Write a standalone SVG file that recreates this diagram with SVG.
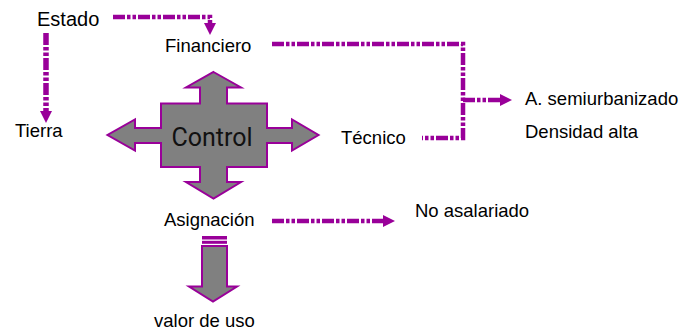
<svg xmlns="http://www.w3.org/2000/svg" width="681" height="331" viewBox="0 0 681 331">
  <style>
    .lbl { font-family: "Liberation Sans", Arial, sans-serif; font-size: 18.5px; fill: #000; }
    .big { font-size: 20px; }
    .ctl { font-family: Roboto, "Liberation Sans", Arial, sans-serif; font-size: 25px; fill: #111; text-anchor: middle; }
    .link { fill: none; stroke: #990099; stroke-width: 4.5; stroke-dasharray: 12 2 3.5 2 3.5 2; }
    .thick { stroke-width: 5.5; }
    .block { fill: #808080; stroke: #990099; stroke-width: 2; stroke-linejoin: miter; }
  </style>
  <defs>
    <marker id="head" markerUnits="userSpaceOnUse" markerWidth="12" markerHeight="12" refX="0" refY="5.5" orient="auto" viewBox="0 0 11 11">
      <path d="M0,0 L11,5.5 L0,11 z" fill="#990099"/>
    </marker>
  </defs>

  <rect width="681" height="331" fill="#fff"/>

  <!-- connectors -->
  <g id="connectors">
    <path class="link" d="M113,17 H210 V23" marker-end="url(#head)"/>
    <path class="link thick" d="M46,33 V111" marker-end="url(#head)"/>
    <path class="link" d="M272,44 H463 V138 H422"/>
    <path class="link" d="M463,100 H500" marker-end="url(#head)"/>
    <path class="link" d="M272,221 H383" marker-end="url(#head)"/>
  </g>

  <!-- central four-way block arrow -->
  <g id="control">
    <polygon class="block" points="213.5,72 241,87.5 227,87.5 227,103.5 267,103.5 267,128 292,128 292,119.5 318.5,135 292,150.5 292,143 267,143 267,167 227,167 227,182 241,182 213.5,198.5 186,182 200,182 200,167 161,167 161,143 135,143 135,150.5 107.5,135 135,119.5 135,128 161,128 161,103.5 200,103.5 200,87.5 186,87.5"/>
    <text class="ctl" x="212" y="146">Control</text>
  </g>

  <g id="estado"><text class="lbl big" x="37" y="26">Estado</text></g>
  <g id="financiero"><text class="lbl" x="165" y="52">Financiero</text></g>
  <g id="tierra"><text class="lbl" x="15" y="137">Tierra</text></g>
  <g id="tecnico"><text class="lbl" x="341" y="144">Técnico</text></g>
  <g id="asignacion"><text class="lbl" x="164" y="226">Asignación</text></g>
  <g id="no-asalariado"><text class="lbl" x="415" y="217">No asalariado</text></g>
  <g id="semiurbanizado"><text class="lbl" x="525" y="105">A. semiurbanizado</text></g>
  <g id="densidad"><text class="lbl" x="525" y="138">Densidad alta</text></g>

  <!-- striped down arrow -->
  <g id="valor-arrow">
    <rect x="202" y="236" width="25" height="3.5" fill="#990099"/>
    <rect x="202" y="240.8" width="25" height="3" fill="#990099"/>
    <polygon class="block" points="202,246 227,246 227,286.5 237,286.5 213,301.5 189,286.5 202,286.5"/>
  </g>
  <g id="valor-de-uso"><text class="lbl" x="154" y="327">valor de uso</text></g>
</svg>
